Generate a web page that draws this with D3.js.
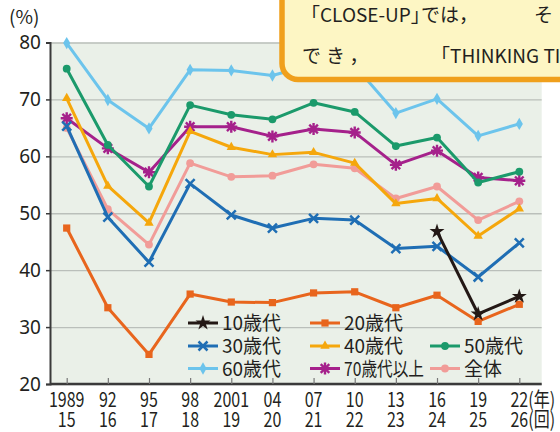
<!DOCTYPE html>
<html>
<head>
<meta charset="utf-8">
<script src="https://cdn.jsdelivr.net/npm/d3@7"></script>
<style>
  body { margin: 0; background: #fff; }
  svg { display: block; }
  .jp { font-family: "Noto Sans CJK JP", sans-serif; fill: #231f20; }
</style>
</head>
<body>
<svg width="560" height="432"></svg>
<script>
let svg = d3.select("svg");

// data: 参議院選挙 年代別投票率 (%)
let years = ["1989", "92", "95", "98", "2001", "04", "07", "10", "13", "16", "19", "22"];
let sessions = ["15", "16", "17", "18", "19", "20", "21", "22", "23", "24", "25", "26"];
let yTicks = [20, 30, 40, 50, 60, 70, 80];

let teens = [null, null, null, null, null, null, null, null, null, 46.8, 32.3, 35.4];
let twenties = [47.4, 33.4, 25.2, 35.8, 34.4, 34.3, 36.0, 36.2, 33.4, 35.6, 31.0, 34.0];
let thirties = [65.3, 49.3, 41.4, 55.2, 49.7, 47.4, 49.1, 48.8, 43.8, 44.2, 38.8, 44.8];
let forties = [70.2, 54.8, 48.3, 64.4, 61.6, 60.3, 60.7, 58.8, 51.7, 52.6, 46.0, 50.8];
let fifties = [75.4, 62.0, 54.7, 69.0, 67.3, 66.5, 69.4, 67.8, 61.8, 63.3, 55.4, 57.3];
let sixties = [79.9, 69.9, 64.9, 75.2, 75.1, 74.2, 76.2, 75.9, 67.6, 70.1, 63.6, 65.7];
let seventies = [66.7, 61.4, 57.2, 65.2, 65.2, 63.5, 64.8, 64.2, 58.5, 61.0, 56.3, 55.7];
let total = [65.0, 50.7, 44.5, 58.8, 56.4, 56.6, 58.6, 57.9, 52.6, 54.7, 48.8, 52.1];

let series = [
  { name: "全体", values: total, color: "#f19c98", mark: "circle" },
  { name: "70歳代以上", values: seventies, color: "#a5218b", mark: "asterisk" },
  { name: "50歳代", values: fifties, color: "#1b9a6b", mark: "circle" },
  { name: "40歳代", values: forties, color: "#f5a70c", mark: "triangle" },
  { name: "30歳代", values: thirties, color: "#1f6eb4", mark: "cross" },
  { name: "20歳代", values: twenties, color: "#e8651d", mark: "square" },
  { name: "60歳代", values: sixties, color: "#6cc4ec", mark: "diamond" },
  { name: "10歳代", values: teens, color: "#231815", mark: "star" }
];
let byName = {};
series.forEach(s => (byName[s.name] = s));

let legendRows = [
  ["10歳代", "20歳代"],
  ["30歳代", "40歳代", "50歳代"],
  ["60歳代", "70歳代以上", "全体"]
];

// scales
let plotL = 50, plotR = 541.7, plotT = 42.5, plotB = 384;
let x = d3.scalePoint().domain(years).range([66.7, 519.3]);
let y = d3.scaleLinear().domain([20, 80]).range([plotB, plotT]);

// plot background
svg.append("rect")
  .attr("x", plotL).attr("y", plotT)
  .attr("width", plotR - plotL).attr("height", plotB - plotT)
  .attr("fill", "#eaf0e8");

// grid
svg.append("g")
  .attr("transform", `translate(${plotL},0)`)
  .call(d3.axisLeft(y).tickValues(yTicks).tickSize(-(plotR - plotL)).tickFormat(""))
  .call(g => g.select(".domain").remove())
  .call(g => g.selectAll("line").attr("stroke", "#babfba").attr("stroke-width", 1.3));

// y axis
let yAxis = svg.append("g")
  .attr("transform", `translate(${plotL},0)`)
  .call(d3.axisLeft(y).tickValues(yTicks).tickSize(4).tickPadding(5));
yAxis.select(".domain").attr("stroke", "#3a3a3a").attr("stroke-width", 2);
yAxis.selectAll(".tick line").attr("stroke", "#3a3a3a").attr("stroke-width", 1.5);
yAxis.selectAll("text")
  .attr("fill", "#231f20")
  .style("font-family", '"Noto Sans", sans-serif')
  .style("font-size", "19px");

// x axis
let xAxis = svg.append("g")
  .attr("transform", `translate(0,${plotB})`)
  .call(d3.axisBottom(x).tickSize(-6).tickSizeOuter(0).tickFormat(""));
xAxis.select(".domain")
  .attr("d", `M${plotL},0H${plotR}`)
  .attr("stroke", "#3a3a3a").attr("stroke-width", 2.5);
xAxis.selectAll(".tick line").attr("stroke", "#777").attr("stroke-width", 1.2);

// condensed x labels
let narrow = (g, tx, ty, str, anchor) => {
  let t = g.append("text")
    .attr("x", tx).attr("y", ty)
    .attr("text-anchor", anchor)
    .text(str);
  let w = t.node().getComputedTextLength();
  t.attr("textLength", w * 0.8).attr("lengthAdjust", "spacingAndGlyphs");
};

let xLabels = svg.append("g").attr("class", "jp").style("font-size", "20px");
years.forEach(d => narrow(xLabels, x(d), 406.5, d, "middle"));
sessions.forEach((d, i) => narrow(xLabels, x(years[i]), 426.5, d, "middle"));
narrow(xLabels, x("22") + 9, 406.5, "(年)", "start");
narrow(xLabels, x("22") + 9, 426.5, "(回)", "start");

svg.append("text")
  .attr("class", "jp")
  .attr("x", 9).attr("y", 24)
  .style("font-size", "19px")
  .text("(%)");

// markers
let marker = (g, s, cx, cy) => {
  let t = `translate(${cx},${cy})`;
  if (s.mark == "cross") {
    g.append("path").attr("transform", t).attr("d", "M-4.5,-4.5L4.5,4.5M-4.5,4.5L4.5,-4.5")
      .attr("stroke", s.color).attr("stroke-width", 2.5).attr("fill", "none");
  } else if (s.mark == "asterisk") {
    g.append("path").attr("transform", t)
      .attr("d", "M0,-6V6M-6,0H6M-4.3,-4.3L4.3,4.3M-4.3,4.3L4.3,-4.3")
      .attr("stroke", s.color).attr("stroke-width", 2.4).attr("fill", "none");
  } else {
    let type = {
      circle: d3.symbolCircle, square: d3.symbolSquare, triangle: d3.symbolTriangle,
      diamond: d3.symbolDiamond, star: d3.symbolStar
    }[s.mark];
    let size = { circle: 48, square: 52, triangle: 38, diamond: 44, star: 70 }[s.mark];
    g.append("path").attr("transform", t)
      .attr("d", d3.symbol().type(type).size(size)())
      .attr("fill", s.color);
  }
};

// lines
let line = d3.line()
  .defined(d => d != null)
  .x((d, i) => x(years[i]))
  .y(d => y(d));

series.forEach(s => {
  let g = svg.append("g");
  g.append("path")
    .attr("d", line(s.values))
    .attr("fill", "none")
    .attr("stroke", s.color)
    .attr("stroke-width", 3)
    .attr("stroke-linejoin", "round");
  s.values.forEach((v, i) => {
    if (v != null) marker(g, s, x(years[i]), y(v));
  });
});

// legend
let colX = [188, 310, 430];
let rowY = [323, 346, 368.5];
let legend = svg.append("g");
legendRows.forEach((row, r) =>
  row.forEach((name, c) => {
    let s = byName[name];
    legend.append("line")
      .attr("x1", colX[c]).attr("x2", colX[c] + 30)
      .attr("y1", rowY[r]).attr("y2", rowY[r])
      .attr("stroke", s.color).attr("stroke-width", 3);
    marker(legend, s, colX[c] + 15, rowY[r]);
    let t = legend.append("text")
      .attr("class", "jp")
      .attr("x", colX[c] + 34)
      .attr("y", rowY[r] + 7)
      .style("font-size", "19px")
      .text(name);
    if (name.length > 4) t.attr("textLength", 80).attr("lengthAdjust", "spacingAndGlyphs");
  })
);

// callout box
let box = svg.append("g");
box.append("rect")
  .attr("x", 282).attr("y", -40)
  .attr("width", 330).attr("height", 119.5)
  .attr("rx", 16)
  .attr("fill", "#fdf6c4")
  .attr("stroke", "#f0a01c")
  .attr("stroke-width", 5.5);
let line1 = box.append("text")
  .attr("class", "jp")
  .attr("y", 22)
  .style("font-size", "19px");
line1.append("tspan").attr("x", 301).text("「CLOSE-UP」");
line1.append("tspan").attr("x", 421).text("では，");
line1.append("tspan").attr("x", 534).text("そ");
let line2 = box.append("text")
  .attr("class", "jp")
  .attr("y", 63)
  .style("font-size", "19px");
line2.append("tspan").attr("x", 302).style("letter-spacing", "5px").text("でき，");
line2.append("tspan").attr("x", 431).text("「THINKING TIM");
</script>
</body>
</html>
